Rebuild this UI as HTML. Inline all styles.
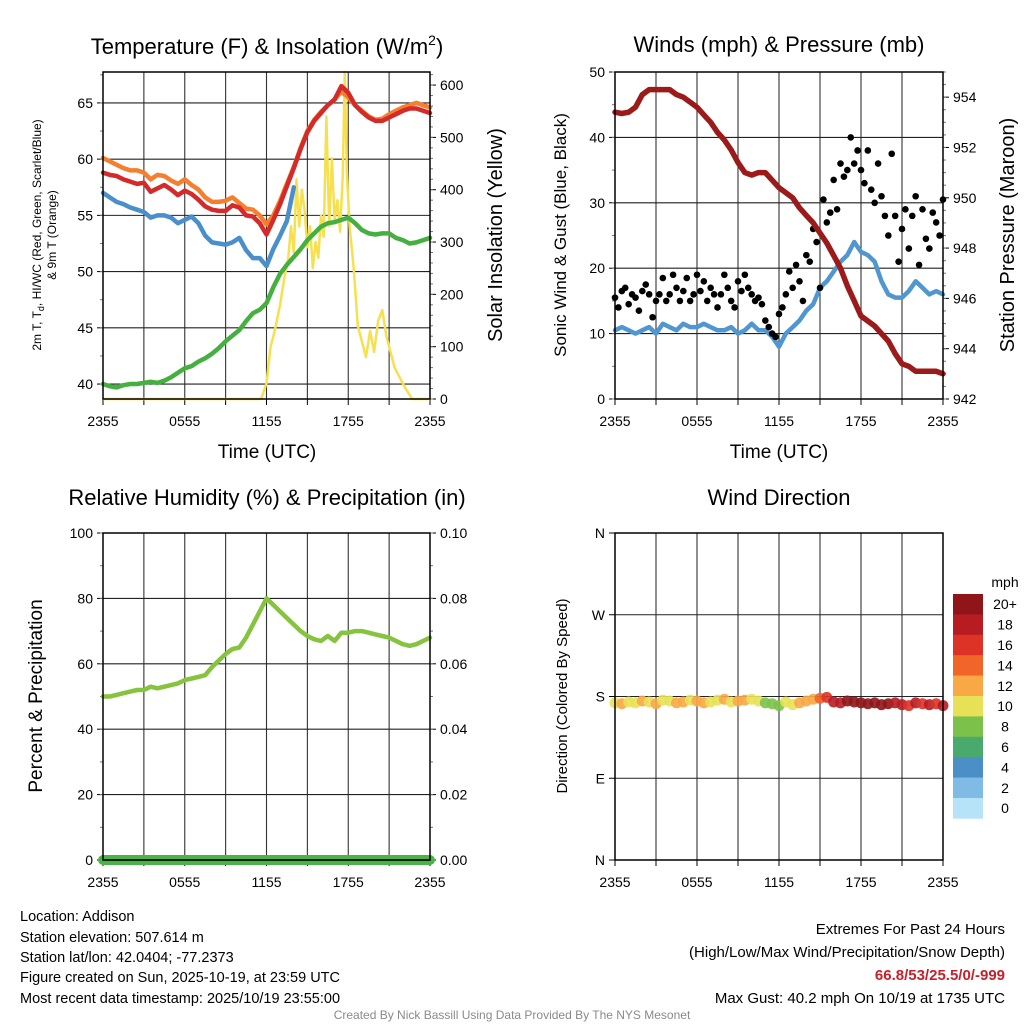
<!DOCTYPE html>
<html><head><meta charset="utf-8"><title>Addison Meteogram</title>
<style>
html,body{margin:0;padding:0;background:#fff;}
svg{display:block;font-family:"Liberation Sans",Arial,sans-serif;}
</style></head>
<body>
<svg id="chart" xmlns="http://www.w3.org/2000/svg" width="1024" height="1024" viewBox="0 0 1024 1024">
<rect x="0" y="0" width="1024" height="1024" fill="#fff"/>
<text x="267" y="54" font-size="22" text-anchor="middle">Temperature (F) &amp; Insolation (W/m<tspan font-size="14" dy="-9">2</tspan><tspan dy="9">)</tspan></text>
<text x="779" y="52" font-size="22" text-anchor="middle">Winds (mph) &amp; Pressure (mb)</text>
<text x="267" y="505" font-size="22" text-anchor="middle">Relative Humidity (%) &amp; Precipitation (in)</text>
<text x="779" y="505" font-size="22" text-anchor="middle">Wind Direction</text>

<text transform="translate(41,235) rotate(-90)" font-size="12" text-anchor="middle">2m T, T<tspan font-size="9" dy="3">d</tspan><tspan dy="-3">, HI/WC (Red, Green, Scarlet/Blue)</tspan></text>
<text transform="translate(56,235) rotate(-90)" font-size="12" text-anchor="middle">&amp; 9m T (Orange)</text>
<text transform="translate(502,235) rotate(-90)" font-size="20" text-anchor="middle">Solar Insolation (Yellow)</text>
<text transform="translate(566,235) rotate(-90)" font-size="17" text-anchor="middle">Sonic Wind &amp; Gust (Blue, Black)</text>
<text transform="translate(1014,235) rotate(-90)" font-size="20" text-anchor="middle">Station Pressure (Maroon)</text>
<text transform="translate(42,696) rotate(-90)" font-size="19" text-anchor="middle">Percent &amp; Precipitation</text>
<text transform="translate(567,696) rotate(-90)" font-size="15" text-anchor="middle">Direction (Colored By Speed)</text>

<text x="267" y="458" font-size="19" text-anchor="middle">Time (UTC)</text>
<text x="779" y="458" font-size="19" text-anchor="middle">Time (UTC)</text>

<g font-size="14.5">
<text x="20" y="921">Location: Addison</text>
<text x="20" y="942">Station elevation: 507.614 m</text>
<text x="20" y="962">Station lat/lon: 42.0404; -77.2373</text>
<text x="20" y="982">Figure created on Sun, 2025-10-19, at 23:59 UTC</text>
<text x="20" y="1003">Most recent data timestamp: 2025/10/19 23:55:00</text>
</g>
<g font-size="15" text-anchor="end">
<text x="1005" y="934">Extremes For Past 24 Hours</text>
<text x="1005" y="957">(High/Low/Max Wind/Precipitation/Snow Depth)</text>
<text x="1005" y="980" fill="#c8202a" font-weight="bold">66.8/53/25.5/0/-999</text>
<text x="1005" y="1003">Max Gust: 40.2 mph On 10/19 at 1735 UTC</text>
</g>
<text x="512" y="1019" font-size="12" fill="#8a8a8a" text-anchor="middle">Created By Nick Bassill Using Data Provided By The NYS Mesonet</text>
<text x="1005" y="587" font-size="14" text-anchor="middle">mph</text>
</svg>
<script>
// ---------- DATA (half-hourly unless noted) ----------
const xTickLabels = ["2355","0555","1155","1755","2355"];
const tempTicks = [40,45,50,55,60,65];
const solarTicks = [0,100,200,300,400,500,600];
const windTicks = [0,10,20,30,40,50];
const pressTicks = [942,944,946,948,950,952,954];
const rhTicks = [0,20,40,60,80,100];
const precipTickLabels = ["0.00","0.02","0.04","0.06","0.08","0.10"];
const dirTicks = [0,90,180,270,360];
const dirTickLabels = ["N","E","S","W","N"];
const speedBins = [0,2,4,6,8,10,12,14,16,18,20];
const speedBinLabels = ["0","2","4","6","8","10","12","14","16","18","20+"];
const speedColors = ["#b6e3f7","#7fbbe5","#4a8fc6","#4aa96c","#7cc24a","#e8e157","#f8a946","#f26529","#dd3327","#b71c23","#8f1519"];

const tempRed = [58.8,58.6,58.5,58.2,58.0,57.8,57.9,57.1,57.4,57.7,57.3,56.8,57.2,56.9,56.4,55.8,55.5,55.4,55.4,55.9,55.7,55.0,54.9,54.3,53.3,54.6,56.0,57.6,59.2,60.9,62.4,63.4,64.1,64.8,65.3,66.5,65.9,64.8,64.2,63.7,63.4,63.4,63.7,64.0,64.3,64.5,64.5,64.3,64.1];
const temp9m = [60.1,59.8,59.5,59.2,59.0,59.0,58.8,58.2,58.6,58.5,58.1,57.8,58.2,57.7,57.3,56.6,56.2,56.2,56.3,56.6,56.1,55.6,55.5,55.0,54.2,55.0,56.3,57.8,59.3,61.0,62.5,63.5,64.2,64.8,65.3,66.0,65.5,64.8,64.3,63.8,63.5,63.6,64.0,64.3,64.6,64.8,65.0,64.8,64.6];
const windChill = [57.0,56.6,56.2,56.0,55.7,55.5,55.3,54.8,55.0,55.0,54.8,54.3,54.6,54.9,54.3,53.2,52.6,52.5,52.4,52.6,53.0,51.9,51.2,51.2,50.5,52.0,53.2,54.5,57.5];
const dewPoint = [40.0,39.8,39.7,39.9,40.0,40.0,40.1,40.2,40.1,40.3,40.6,41.0,41.4,41.6,42.0,42.3,42.7,43.2,43.8,44.3,44.8,45.6,46.3,46.6,47.2,48.6,49.8,50.6,51.3,52.0,52.8,53.4,54.0,54.3,54.4,54.6,54.8,54.3,53.7,53.4,53.3,53.4,53.4,53.0,52.8,52.5,52.6,52.8,53.0];
const solarHours = [0,11.6,12.0,12.3,12.6,13.0,13.3,13.6,13.8,14.0,14.2,14.4,14.6,14.8,15.0,15.2,15.4,15.6,15.8,16.0,16.2,16.4,16.6,16.8,17.0,17.2,17.4,17.6,17.75,17.9,18.1,18.4,18.7,19.0,19.3,19.6,19.9,20.2,20.5,20.8,21.1,21.4,21.8,22.2,22.7,24];
const solarVals = [0,0,30,100,130,180,230,270,330,280,420,330,400,360,290,330,250,300,270,350,310,540,330,460,340,380,320,430,625,430,330,250,140,110,80,130,90,150,170,120,90,60,40,20,0,0];

const pressure = [953.4,953.35,953.4,953.6,954.1,954.3,954.3,954.3,954.3,954.1,954.0,953.8,953.6,953.3,953.0,952.6,952.3,951.9,951.4,951.0,950.9,951.0,951.0,950.7,950.4,950.2,950.0,949.6,949.3,949.0,948.6,948.2,947.7,947.2,946.5,945.9,945.3,945.1,944.9,944.6,944.3,943.8,943.4,943.3,943.1,943.1,943.1,943.1,943.0];
const windSpeed = [10.5,11,10.5,10,10.5,11,10,11.5,11,10.5,11.5,11,11,11.5,11,10.5,10.5,11,10,10.5,11.5,10.5,10.5,9.5,8,10,11,12,13.5,14.5,17,18,19.5,21,22,24,22.5,22,21,18,16,15.5,15.5,16.5,18,17,16,16.5,16];
// gusts every 15 minutes
const windGust = [15.5,14,16.5,17,14.5,16,15.5,13.5, 16.5,17.5,16,12.5,15,16,18.5,15, 16,19,17,15,16.5,18.5,15,16, 19,16.5,18,15,17,16,14,16, 19,17,15,14,18,16.5,19,17, 16,15,15.5,14.5,12,11,10,9.5, 13,14,16,19.5,17,20.5,18,15, 22,21,26,24,17,30.5,27,28.5, 33.5,29,36,34,35,40,36,38, 35,33,38,32,30,36,31,28, 25,37.5,28,21,26,29,23,28, 31,20.5,29,24.5,23,28.5,27,25,30.5];

const relHum = [50,50,50.5,51,51.5,52,52,53,52.5,53,53.5,54,55,55.5,56,56.5,59,61,63,64.5,65,68,72,76,80,78,76,74,72,70,68.5,67.5,67,68.5,67,69.5,69.5,70,70,69.5,69,68.5,68,67,66,65.5,66,67,68];
const precip = [0,0,0,0,0,0,0,0,0,0,0,0,0,0,0,0,0,0,0,0,0,0,0,0,0,0,0,0,0,0,0,0,0,0,0,0,0,0,0,0,0,0,0,0,0,0,0,0,0];
const windDir = [173,172,174,173,175,174,172,176,175,173,174,176,175,173,174,176,177,174,175,176,177,175,173,172,170,174,171,173,175,177,178,179,174,173,175,174,173,172,173,171,172,173,171,170,173,172,171,172,170];
const dirSpeed = [11,12.5,11,10.5,12,11,12.5,11,10.5,12.5,12,11,12.5,12,11,10.5,12.5,11,12,12.5,11,10.5,9,8.5,9,11,10.5,12.5,13,12.5,15,16,18,19,21,22,23,21,22,21,20,19,18.5,17,18,16.5,19,17,18];

// ---------- GEOMETRY ----------
const NS = "http://www.w3.org/2000/svg";
const svg = document.getElementById('chart');
const P1 = {x0:103,x1:430,y0:72,y1:399};
const P2 = {x0:615,x1:943,y0:72,y1:399};
const P3 = {x0:103,x1:430,y0:533,y1:860};
const P4 = {x0:615,x1:943,y0:533,y1:860};
function xS(p,h){return p.x0 + h/24*(p.x1-p.x0);}
function lin(p,lo,hi){return v => p.y1 - (v-lo)/(hi-lo)*(p.y1-p.y0);}
const yTemp = lin(P1,38.67,67.75);
const ySolar = lin(P1,0,625);
const yWind = lin(P2,0,50);
const yPress = lin(P2,942,955);
const yRH = lin(P3,0,100);
const yPrecip = lin(P3,0,0.1);
const yDir = lin(P4,0,360);

function el(tag, attrs, parent){
  const e = document.createElementNS(NS, tag);
  for (const k in attrs) e.setAttribute(k, attrs[k]);
  (parent||svg).appendChild(e);
  return e;
}
function txt(str, attrs, parent){
  const t = el('text', attrs, parent);
  t.textContent = str;
  return t;
}

// ---------- FRAMES / GRID ----------
function frame(p, id, hTicks, yFn){
  const g = el('g', {});
  
  
  for (let h=3; h<24; h+=3){
    const x = xS(p,h);
    const l = el('line',{x1:x,x2:x,y1:p.y0,y2:p.y1,stroke:'#333','stroke-width':1.1},g);
    
  }
  hTicks.forEach(v=>{
    const y = yFn(v);
    if (y>p.y0+1 && y<p.y1-1){
      const l = el('line',{x1:p.x0,x2:p.x1,y1:y,y2:y,stroke:'#222','stroke-width':1.1},g);
      
    }
  });
  for (let h=0; h<=24; h+=3){
    const x = xS(p,h);
    const l = el('line',{x1:x,x2:x,y1:p.y1,y2:p.y1+6,stroke:'#000','stroke-width':1},g);
    
  }
  xTickLabels.forEach((s,i)=>{
    const t = txt(s,{x:xS(p,i*6),y:p.y1+27,'font-size':14,'text-anchor':'middle'},g);
    
  });
}
function border(p,id){
  const r = el('rect',{x:p.x0,y:p.y0,width:p.x1-p.x0,height:p.y1-p.y0,fill:'none',stroke:'#000','stroke-width':1.5});
  
}
function leftAxis(p, ticks, labels, yFn, minorStep, lo, hi){
  const g = el('g',{});
  
  
  ticks.forEach((v,i)=>{
    const y = yFn(v);
    const l = el('line',{x1:p.x0-6,x2:p.x0,y1:y,y2:y,stroke:'#000'},g);
    
    const t = txt(labels[i],{x:p.x0-10,y:y+5,'font-size':14,'text-anchor':'end'},g);
    
  });
  if (minorStep){
    for (let v=lo; v<=hi; v+=minorStep){
      const y = yFn(v);
      if (y>=p.y0 && y<=p.y1){
        const l = el('line',{x1:p.x0-3,x2:p.x0,y1:y,y2:y,stroke:'#777'},g);
        
      }
    }
  }
}
function rightAxis(p, ticks, labels, yFn, minorStep, lo, hi){
  const g = el('g',{});
  
  
  ticks.forEach((v,i)=>{
    const y = yFn(v);
    const l = el('line',{x1:p.x1,x2:p.x1+6,y1:y,y2:y,stroke:'#000'},g);
    
    const t = txt(labels[i],{x:p.x1+10,y:y+5,'font-size':14,'text-anchor':'start'},g);
    
  });
  if (minorStep){
    for (let v=lo; v<=hi; v+=minorStep){
      const y = yFn(v);
      if (y>=p.y0 && y<=p.y1){
        const l = el('line',{x1:p.x1,x2:p.x1+3,y1:y,y2:y,stroke:'#777'},g);
        
      }
    }
  }
}
function polyline(p, arr, yFn, color, w, name, step){
  const pts = arr.map((v,i)=> xS(p,i*step).toFixed(1)+','+yFn(v).toFixed(1)).join(' ');
  const l = el('polyline',{points:pts,fill:'none',stroke:color,'stroke-width':w,'stroke-linejoin':'round','stroke-linecap':'round'});
  
  return l;
}

// Panel 1
frame(P1,'temperature',tempTicks,yTemp);
leftAxis(P1,tempTicks,tempTicks.map(String),yTemp,2.5,37.5,70);
rightAxis(P1,solarTicks,solarTicks.map(String),ySolar,20,0,625);
{
  const pts = solarHours.map((h,i)=> xS(P1,h).toFixed(1)+','+ySolar(solarVals[i]).toFixed(1)).join(' ');
  const l = el('polyline',{points:pts,fill:'none',stroke:'#f7e04f','stroke-width':2.5,'stroke-linejoin':'round'});
  
}
polyline(P1,dewPoint,yTemp,'#45b040',4.5,'dewpoint-line',0.5);
polyline(P1,temp9m,yTemp,'#f47f2f',4.5,'temp-9m-line',0.5);
polyline(P1,windChill,yTemp,'#4a8fcc',4.5,'windchill-line',0.5);
polyline(P1,tempRed,yTemp,'#d42a2a',4.5,'temp-2m-line',0.5);
border(P1,'temperature');

// Panel 2
frame(P2,'wind',windTicks,yWind);
leftAxis(P2,windTicks,windTicks.map(String),yWind,5,0,50);
rightAxis(P2,pressTicks,pressTicks.map(String),yPress,0.5,942,955);
polyline(P2,windSpeed,yWind,'#5096d0',4.5,'sonic-wind-line',0.5);
windGust.forEach((v,i)=>{
  const c = el('circle',{cx:xS(P2,i*0.25),cy:yWind(v),r:3.3,fill:'#000'});
  
});
polyline(P2,pressure,yPress,'#9b1b1b',5.5,'pressure-line',0.5);
border(P2,'wind');

// Panel 3
frame(P3,'humidity',rhTicks,yRH);
leftAxis(P3,rhTicks,rhTicks.map(String),yRH,10,0,100);
rightAxis(P3,rhTicks,precipTickLabels,yRH,10,0,100);
polyline(P3,relHum,yRH,'#86c440',4.5,'relative-humidity-line',0.5);
polyline(P3,precip,yPrecip,'#4cb348',10,'precipitation-line',0.5);
{
  const l = el('line',{x1:P3.x0,x2:P3.x1,y1:P3.y1,y2:P3.y1,stroke:'#000','stroke-width':1.2});
  
}
border(P3,'humidity');

// Panel 4
frame(P4,'direction',dirTicks,yDir);
leftAxis(P4,dirTicks,dirTickLabels,yDir,0,0,0);
function speedColor(s){
  let idx = 0;
  speedBins.forEach((b,i)=>{ if (s>=b) idx=i; });
  return speedColors[idx];
}
windDir.forEach((d,i)=>{
  const c = el('circle',{cx:xS(P4,i*0.5),cy:yDir(d),r:5.5,fill:speedColor(dirSpeed[i]),'fill-opacity':0.9});
  
});
border(P4,'direction');

// Colorbar
{
  const g = el('g',{});
  
  
  const top = 594, bh = 20.4;
  for (let k=speedColors.length-1, j=0; k>=0; k--, j++){
    const r = el('rect',{x:953,y:top+j*bh,width:30,height:bh+0.3,fill:speedColors[k]},g);
    
    const t = txt(speedBinLabels[k],{x:1005,y:top+j*bh+bh/2+5,'font-size':14,'text-anchor':'middle'},g);
    
  }
}
</script>
</body></html>
